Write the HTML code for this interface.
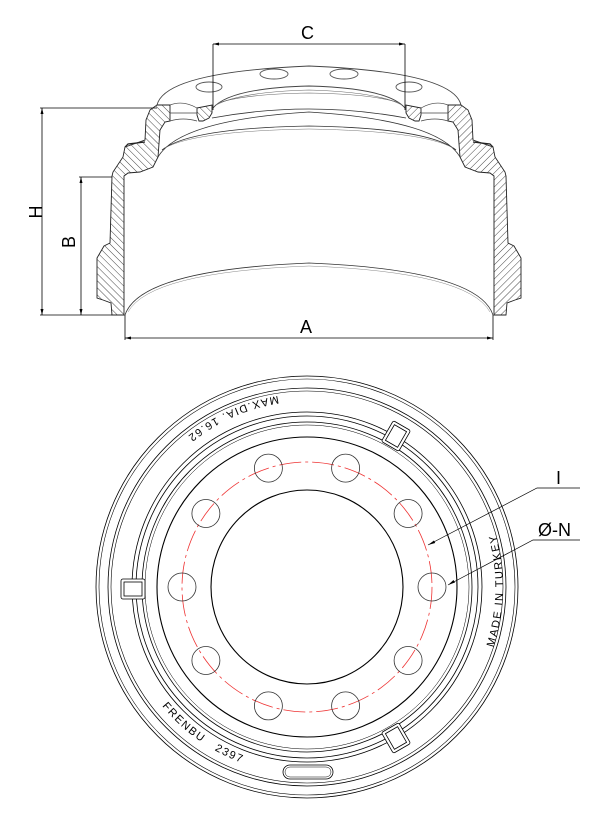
<!DOCTYPE html>
<html><head><meta charset="utf-8"><style>html,body{margin:0;padding:0;background:#fff}svg{display:block}</style></head>
<body>
<svg width="615" height="819" viewBox="0 0 615 819" xmlns="http://www.w3.org/2000/svg" font-family="Liberation Sans, sans-serif">
<defs>
<pattern id="h" patternUnits="userSpaceOnUse" width="5" height="5" patternTransform="rotate(-45)">
<rect width="5" height="5" fill="#fff"/><line x1="0" y1="0" x2="0" y2="5" stroke="#333" stroke-width="0.9"/>
</pattern>
<g id="half">
<path d="M157,105 L150,110 L146,120 L145,140 L125,147 L123,157 L113,172 L112,176 L110,243 L104,246 L97,258 L97,298 L103,300 L111,303 L112,315 L124,315 L124,176 L128,173 L140,172 L153,167 L158,157 L160,130 L165,122 L170,121 L170,105 Z" fill="url(#h)" stroke="#222" stroke-width="0.9"/>
<path d="M197,108 L212,105 L212,113 L209,118 L203,121 L199,121 L197,115 Z" fill="url(#h)" stroke="#222" stroke-width="0.9"/>
<path d="M170,105 Q183,100 197,108 M170,121 Q183,117 197,121 M170,113 L197,113" fill="none" stroke="#444" stroke-width="0.7"/>
<path d="M125,147 L128,144 L145,142" fill="none" stroke="#222" stroke-width="1.2"/>
</g>
</defs>
<g stroke="#000" fill="none" stroke-width="0.9">
<path d="M157,105 Q165,72 309,66 Q453,72 461,105" stroke="#444"/>
<path d="M213,108 Q230,88 309,86 Q388,88 405,108" stroke="#444"/>
<path d="M216,105 Q240,92 309,90 Q378,92 402,105" stroke="#666" stroke-width="0.6"/>
<path d="M218,103 Q245,94 309,93 Q373,94 400,103" stroke="#666" stroke-width="0.6"/>
<ellipse cx="209" cy="87" rx="13" ry="5" stroke="#555"/>
<ellipse cx="274" cy="74" rx="14" ry="5" stroke="#555"/>
<ellipse cx="344" cy="74" rx="14" ry="5" stroke="#555"/>
<ellipse cx="409" cy="87" rx="13" ry="5" stroke="#555"/>
</g>
<use href="#half"/>
<use href="#half" transform="translate(618,0) scale(-1,1)"/>
<g stroke="#333" fill="none" stroke-width="0.8">
<path d="M212,118 Q309,100 406,118"/>
<path d="M158,157 Q180,120 309,112 Q438,120 460,157"/>
<path d="M162,150 Q190,128 309,126 Q428,128 456,150"/>
<path d="M165,148 Q195,131 309,129 Q423,131 453,148" stroke="#777" stroke-width="0.5"/>
<path d="M125,315 Q140,270 309,263 Q478,270 493,315"/>
<path d="M128,312 Q150,272 309,266 Q468,272 490,312" stroke="#888" stroke-width="0.5"/>
</g>
<g stroke="#000" stroke-width="0.8" fill="none">
<line x1="213" y1="44" x2="405" y2="44"/><line x1="213" y1="44" x2="213" y2="110"/><line x1="405" y1="44" x2="405" y2="110"/>
<line x1="42" y1="108" x2="42" y2="315"/><line x1="40" y1="108" x2="157" y2="108"/><line x1="40" y1="315" x2="112" y2="315"/>
<line x1="81" y1="177" x2="81" y2="315"/><line x1="79" y1="177" x2="112" y2="177"/>
<line x1="125" y1="338" x2="493" y2="338"/><line x1="125" y1="315" x2="125" y2="340"/><line x1="493" y1="315" x2="493" y2="340"/>
</g>
<g fill="#000">
<path d="M213,44 l6,-1.5 v3z M405,44 l-6,-1.5 v3z M42,108 l-1.5,6 h3z M42,315 l-1.5,-6 h3z M81,177 l-1.5,6 h3z M81,315 l-1.5,-6 h3z M125,338 l6,-1.5 v3z M493,338 l-6,-1.5 v3z"/>
</g>
<g font-size="18" fill="#000">
<text x="301" y="39">C</text>
<text x="300" y="333">A</text>
<text transform="translate(42,212) rotate(-90)" text-anchor="middle">H</text>
<text transform="translate(75,242) rotate(-90)" text-anchor="middle">B</text>
</g>
<g stroke="#000" fill="none" stroke-width="0.8">
<circle cx="307" cy="587" r="211"/><circle cx="307" cy="587" r="208" stroke-width="0.6"/>
<circle cx="307" cy="587" r="199"/><circle cx="307" cy="587" r="196" stroke-width="0.6"/>
<circle cx="307" cy="587" r="175"/><circle cx="307" cy="587" r="171"/>
<circle cx="307" cy="587" r="165"/><circle cx="307" cy="587" r="162" stroke-width="0.5"/>
<circle cx="307" cy="587" r="150" stroke-width="1.1"/>
<ellipse cx="307" cy="587" rx="96" ry="97" stroke-width="1.1"/>
<rect x="283" y="765" width="50" height="14" rx="7"/>
<rect x="285" y="767" width="46" height="10" rx="5" stroke-width="0.5"/>
</g>
<g stroke="#000" fill="#fff" stroke-width="0.8">
<g transform="translate(133,589) rotate(90)"><rect x="-10" y="-12" width="20" height="24" rx="2"/><rect x="-7" y="-9" width="14" height="18" fill="none"/></g>
<g transform="translate(396,436) rotate(30)"><rect x="-10" y="-12" width="20" height="24" rx="2"/><rect x="-7" y="-9" width="14" height="18" fill="none"/></g>
<g transform="translate(396,738) rotate(150)"><rect x="-10" y="-12" width="20" height="24" rx="2"/><rect x="-7" y="-9" width="14" height="18" fill="none"/></g>
</g>
<circle cx="307" cy="587" r="125" stroke="#e33" stroke-width="0.8" fill="none" stroke-dasharray="22,4,3,4"/>
<g stroke="#333" fill="none" stroke-width="0.8">
<circle cx="432" cy="587" r="14"/><circle cx="408.1" cy="513.5" r="14"/><circle cx="345.6" cy="468.1" r="14"/>
<circle cx="268.4" cy="468.1" r="14"/><circle cx="205.9" cy="513.5" r="14"/><circle cx="182" cy="587" r="14"/>
<circle cx="205.9" cy="660.5" r="14"/><circle cx="268.4" cy="705.9" r="14"/><circle cx="345.6" cy="705.9" r="14"/>
<circle cx="408.1" cy="660.5" r="14"/>
</g>
<path id="p1" d="M278,396 A192,192 0 0 0 155,470" fill="none"/>
<path id="p2" d="M162,706 A188,188 0 0 0 262,769" fill="none"/>
<path id="p3" d="M493.4,647.6 A196,196 0 0 0 484.6,504.2" fill="none"/>
<g font-size="11" fill="#000" letter-spacing="1.6">
<text><textPath href="#p1">MAX.DIA. 16.62</textPath></text>
<text><textPath href="#p2">FRENBU&#160;&#160;&#160;2397</textPath></text>
<text><textPath href="#p3">MADE IN TURKEY</textPath></text>
</g>
<g stroke="#000" stroke-width="0.7" fill="none">
<polyline points="580,488 537,488 428,545"/>
<polyline points="580,540 533,540 448,585"/>
</g>
<path d="M428,545 l6,-4.5 l1.2,2.5z M448,585 l5.5,-5 l1.5,2.5z" fill="#000"/>
<g font-size="18" fill="#000">
<text x="556" y="484">I</text>
<text x="538" y="536">Ø-N</text>
</g>
</svg>
</body></html>
